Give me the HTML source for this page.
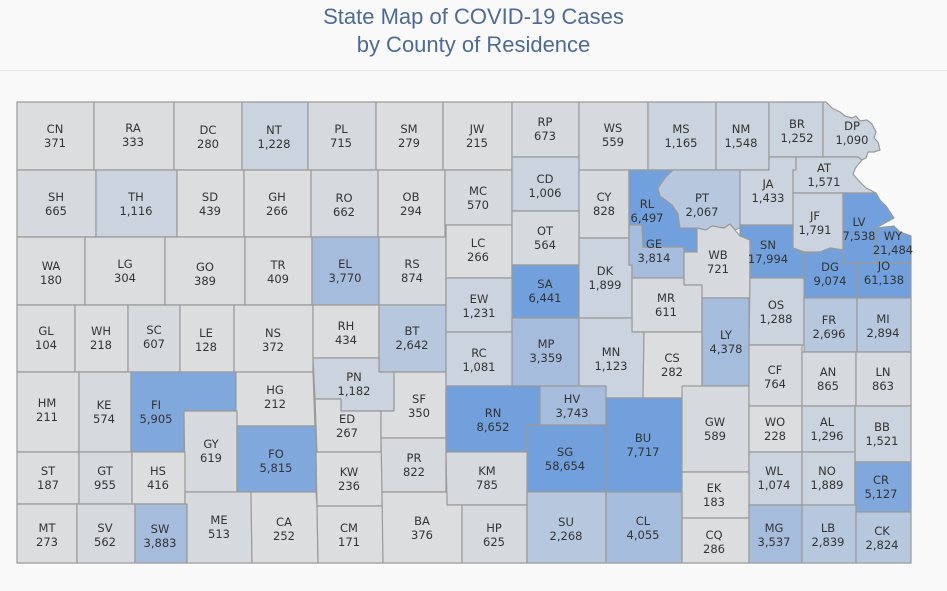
<!DOCTYPE html>
<html><head><meta charset="utf-8"><style>
html,body{margin:0;padding:0;background:#f9f9f9;}
body{width:947px;height:591px;overflow:hidden;position:relative;font-family:"Liberation Sans",sans-serif;}
.t{position:absolute;left:0;width:947px;text-align:center;color:#4e6a93;font-size:22px;line-height:28px;}
svg{position:absolute;left:0;top:0;}
polygon{stroke:#9a9a9a;stroke-width:1.2;stroke-linejoin:round;}
text{font-family:"DejaVu Sans","Liberation Sans",sans-serif;font-size:11.5px;fill:#333;text-anchor:middle;dominant-baseline:central;}
.a{fill:#dcdddf}.b{fill:#d6d9de}.c{fill:#cbd3de}.d{fill:#b7c8de}.e{fill:#a6bcdd}.f{fill:#80a8dc}.g{fill:#71a0dc}
</style></head><body>
<div class="t" style="top:3px">State Map of COVID-19 Cases</div>
<div class="t" style="top:31px">by County of Residence</div>
<div style="position:absolute;left:0;top:70px;width:947px;height:1px;background:#e6e6e6"></div>
<svg width="947" height="591" viewBox="0 0 947 591">
<g id="m"></g>
</svg>
<script>
var D=[
["CN",371,"17,102 94,102 94,170 17,170",55,129],
["RA",333,"94,102 174,102 174,170 94,170",133,128],
["DC",280,"174,102 242,102 242,170 174,170",208,130],
["NT",1228,"242,102 308,102 308,170 242,170",274,130],
["PL",715,"308,102 376,102 376,170 308,170",341,129],
["SM",279,"376,102 443,102 443,170 376,170",409,129],
["JW",215,"443,102 512,102 512,170 443,170",477,129],
["RP",673,"512,102 579,102 579,157 512,157",545,122],
["WS",559,"579,102 648,102 648,170 579,170",613,128],
["MS",1165,"648,102 716,102 716,170 648,170",681,129],
["NM",1548,"716,102 769,102 769,170 716,170",741,129],
["BR",1252,"769,102 823,102 823,157 769,157",797,124],
["DP",1090,"823,102 826,102 832,108 840,112 845,116 852,118 856,116 860,121 867,120 872,124 876,132 874,138 878,142 880,150 874,152 868,152 866,158 862,160 858,157 823,157",852,126],
["SH",665,"17,170 96,170 96,237 17,237",56,197],
["TH",1116,"96,170 177,170 177,237 96,237",136,197],
["SD",439,"177,170 244,170 244,237 177,237",210,197],
["GH",266,"244,170 311,170 311,237 244,237",277,197],
["RO",662,"311,170 378,170 378,237 311,237",344,198],
["OB",294,"378,170 445,170 445,237 378,237",411,197],
["MC",570,"445,170 512,170 512,225 445,225",478,191],
["CD",1006,"512,157 579,157 579,211 512,211",545,179],
["CY",828,"579,170 629,170 629,238 579,238",604,197],
["RL",6497,"629,170 673,170 665,178 658,188 660,196 672,205 678,214 680,228 697,228 697,252 684,252 684,247 643,247 642,225 629,225",647,204],
["PT",2067,"673,170 740,170 740,228 735,230 730,224 724,228 712,226 706,230 697,228 680,228 678,214 672,205 660,196 658,188 665,178",702,198],
["JA",1433,"740,170 769,170 769,157 796,157 796,225 740,225",768,184],
["AT",1571,"796,157 858,157 862,160 856,167 853,174 858,180 866,188 876,193 793,193 793,170 796,170",824,168],
["WA",180,"17,237 85,237 85,305 17,305",51,266],
["LG",304,"85,237 165,237 165,305 85,305",125,264],
["GO",389,"165,237 245,237 245,305 165,305",205,267],
["TR",409,"245,237 312,237 312,305 245,305",278,265],
["EL",3770,"312,237 379,237 379,305 312,305",345,264],
["RS",874,"379,237 446,237 446,305 379,305",412,264],
["LC",266,"446,225 512,225 512,278 446,278",478,243],
["OT",564,"512,211 579,211 579,265 512,265",545,231],
["SA",6441,"512,265 579,265 579,318 512,318",545,284],
["DK",1899,"579,238 629,238 629,265 632,265 632,318 579,318",605,271],
["GE",3814,"629,225 642,225 643,247 684,247 684,278 632,278 632,265 629,265",654,244],
["WB",721,"697,228 706,230 712,226 724,228 730,224 735,230 740,236 750,240 750,298 702,298 702,285 684,285 684,252 697,252",718,255],
["SN",17994,"740,225 793,225 793,248 804,253 804,278 750,278 750,240 740,236",768,245],
["JF",1791,"793,193 843,193 843,250 830,248 820,252 804,252 793,248",815,216],
["LV",7538,"843,193 876,193 880,200 886,206 890,212 894,218 876,228 876,263 857,263 843,264",859,222],
["WY",21484,"876,228 894,226 900,232 911,236 911,263 876,263",893,236],
["DG",9074,"804,253 820,252 830,248 843,250 843,264 857,263 857,298 804,298",830,267],
["JO",61138,"857,263 911,263 911,298 857,298",884,266],
["OS",1288,"750,278 804,278 804,345 749,345",776,305],
["MR",611,"632,278 684,278 684,285 702,285 702,332 632,332",666,298],
["LY",4378,"702,298 749,298 749,386 702,386",726,335],
["GL",104,"17,305 75,305 75,372 17,372",46,331],
["WH",218,"75,305 128,305 128,372 75,372",101,331],
["SC",607,"128,305 180,305 180,372 128,372",154,330],
["LE",128,"180,305 234,305 234,372 180,372",206,333],
["NS",372,"234,305 313,305 313,372 234,372",273,333],
["RH",434,"313,305 379,305 379,358 313,358",346,326],
["BT",2642,"379,305 446,305 446,372 379,372",412,331],
["EW",1231,"446,278 512,278 512,332 446,332",479,299],
["MP",3359,"512,318 579,318 579,386 512,386",546,344],
["MN",1123,"579,318 632,318 632,332 644,332 643,398 606,398 606,386 579,386",611,352],
["CS",282,"644,332 702,332 702,398 643,398",672,358],
["FR",2696,"804,298 857,298 857,352 804,352",829,320],
["MI",2894,"857,298 911,298 911,352 857,352",883,319],
["RC",1081,"446,332 512,332 512,386 446,386",479,353],
["HM",211,"17,372 79,372 79,452 17,452",47,403],
["KE",574,"79,372 131,372 131,452 79,452",104,405],
["FI",5905,"131,372 236,372 236,411 184,411 184,452 131,452",156,405],
["HG",212,"236,372 313,372 315,426 237,426 236,411",275,390],
["PN",1182,"313,358 379,358 379,372 394,372 394,411 341,411 341,399 315,399",354,377],
["ED",267,"315,399 341,399 341,411 381,411 381,452 317,452 316,426",347,419],
["SF",350,"394,372 446,372 446,438 381,438 381,411 394,411",419,399],
["GY",619,"184,411 237,411 237,492 185,492",211,444],
["FO",5815,"237,426 316,426 316,492 237,492",276,454],
["RN",8652,"446,386 540,386 540,425 527,425 527,452 446,452",493,413],
["HV",3743,"540,386 606,386 606,425 540,425",572,399],
["BU",7717,"606,398 682,398 682,492 606,492",643,438],
["GW",589,"682,386 749,386 749,472 682,472",715,422],
["CF",764,"749,345 802,345 802,406 749,406",775,370],
["AN",865,"802,352 856,352 856,406 802,406",828,372],
["LN",863,"856,352 911,352 911,406 856,406",883,372],
["ST",187,"17,452 79,452 79,504 17,504",48,471],
["GT",955,"79,452 132,452 132,504 79,504",105,471],
["HS",416,"132,452 185,452 185,504 132,504",158,471],
["KW",236,"316,452 382,452 382,506 317,506",349,472],
["PR",822,"381,438 446,438 446,492 382,492",414,458],
["SG",58654,"527,425 606,425 606,492 527,492",565,452],
["KM",785,"446,452 527,452 527,505 447,505",487,471],
["WO",228,"749,406 802,406 802,452 749,452",775,422],
["AL",1296,"802,406 855,406 855,452 802,452",827,422],
["BB",1521,"855,406 911,406 911,462 855,462",882,427],
["WL",1074,"749,452 802,452 802,505 749,505",774,471],
["NO",1889,"802,452 855,452 855,505 802,505",827,471],
["CR",5127,"855,462 911,462 911,512 855,512",881,480],
["EK",183,"682,472 749,472 749,518 682,518",714,488],
["MT",273,"17,504 77,504 77,563 17,563",47,528],
["SV",562,"77,504 135,504 135,563 77,563",105,528],
["SW",3883,"135,504 187,504 187,563 135,563",160,529],
["ME",513,"185,492 251,492 252,563 187,563 187,504 185,504",219,520],
["CA",252,"251,492 316,492 317,506 318,563 252,563",284,522],
["CM",171,"317,506 383,506 383,563 318,563",349,528],
["BA",376,"382,492 447,492 447,505 462,505 462,563 383,563",422,521],
["HP",625,"462,505 527,505 527,563 462,563",494,528],
["SU",2268,"527,492 606,492 606,563 527,563",566,522],
["CL",4055,"606,492 682,492 682,563 606,563",643,521],
["CQ",286,"682,518 749,518 749,563 682,563",714,535],
["MG",3537,"749,505 802,505 802,563 749,563",774,528],
["LB",2839,"802,505 856,505 856,563 802,563",828,528],
["CK",2824,"856,512 911,512 911,563 856,563",882,531]
];
function cl(v){return v<500?"a":v<1000?"b":v<2000?"c":v<3000?"d":v<5000?"e":v<6000?"f":"g";}
var s="";
D.forEach(function(d){s+='<polygon class="'+cl(d[1])+'" points="'+d[2]+'"/>';});
D.forEach(function(d){s+='<text x="'+d[3]+'" y="'+d[4]+'">'+d[0]+'</text><text x="'+d[3]+'" y="'+(d[4]+14)+'">'+d[1].toLocaleString("en-US")+'</text>';});
document.getElementById("m").innerHTML=s;
</script>
</body></html>
